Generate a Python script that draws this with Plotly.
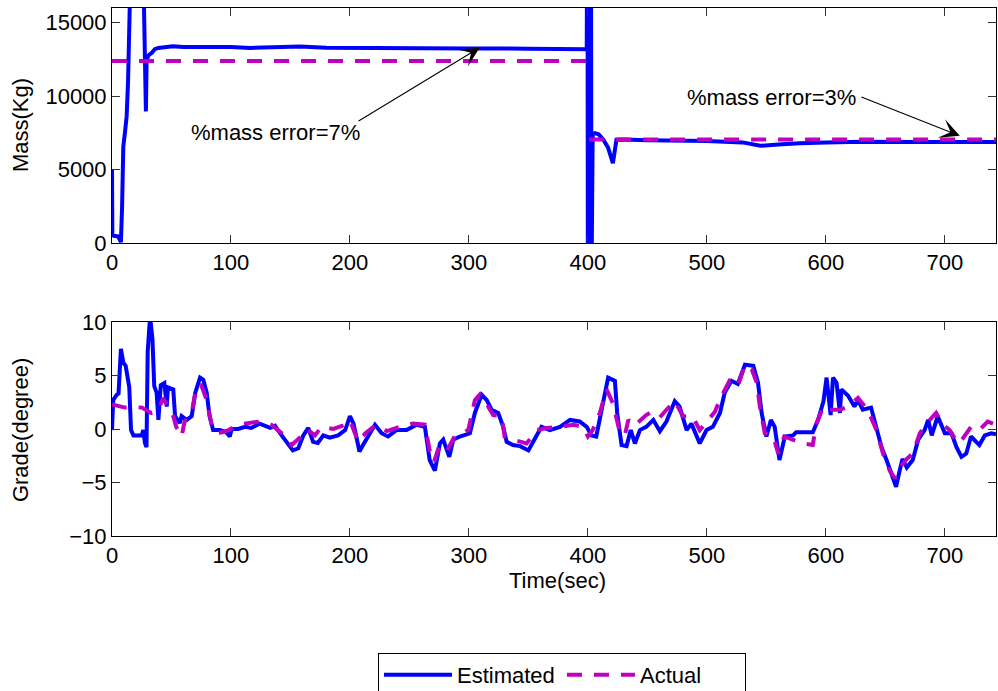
import plotly.graph_objects as go

# ---------------- data ----------------
# Top panel: mass (kg)
t_mass_est = [0, 0.3, 1, 3, 5, 6.5, 7.5, 8.5, 9.5, 11, 12.3, 13.5, 14.5, 16, 26, 27.5, 28.5, 29.1,
              31, 33.3, 36, 39, 45, 51, 60, 80, 100, 116, 130, 150, 158, 180, 200, 250, 300, 350,
              390, 399, 399.6, 400, 400.5, 401, 401.5, 402, 402.5, 403, 404, 406, 409, 413, 417,
              421, 424, 430, 450, 500, 530, 545, 560, 578, 600, 630, 680, 743]
mass_est = [5000, 450, 500, 480, 450, 250, 60, 2500, 6570, 7600, 8620, 11000, 15000, 20000, 20000,
            14000, 8960, 12480, 12800, 12940, 13200, 13280, 13350, 13400, 13350, 13380, 13350, 13280,
            13320, 13350, 13380, 13300, 13300, 13280, 13250, 13230, 13200, 13200, 25000, -5000, 25000,
            -5000, 25000, -5000, 25000, -3000, 7400, 7480, 7400, 7030, 6480, 5440, 7030, 7050, 7000,
            6950, 6850, 6620, 6700, 6800, 6850, 6900, 6880, 6880]
t_mass_act = [0, 399, 399.5, 401, 743]
mass_act = [12400, 12400, None, 7050, 7050]

# Bottom panel: grade (degree)
t_grade_est = [0, 1, 4, 5.5, 7.5, 9.5, 11.5, 13, 14.5, 16, 18, 25, 26.3, 27.7, 29, 30, 32, 34, 35.5,
               37.5, 39, 41, 44, 46, 47, 51.5, 53, 57, 58.5, 62.8, 67, 70, 74, 76.7, 79.6, 82, 85,
               90.8, 96, 99, 100.6, 106, 112, 117, 124, 133, 137, 142.6, 148, 152, 156.6, 160.8, 165,
               169, 173, 177.6, 183, 190, 196, 200, 203, 205.6, 208, 211, 214, 221, 226.6, 232, 239,
               247.6, 256, 263, 267, 271.4, 275.6, 278.4, 283.5, 286.8, 292.4, 300.8, 305, 310.7, 315,
               319, 324.6, 328.8, 331.7, 337, 343, 350, 354, 361, 368, 376.5, 385, 393, 399, 403, 407,
               411.5, 417, 422.7, 424.6, 428.3, 432.5, 436, 439.5, 443.7, 449, 455, 460.5, 466, 473,
               477, 483, 487, 494, 499.7, 505, 511, 515, 520.7, 526, 532, 539, 543, 546, 550, 553.8,
               557, 561, 565.5, 572.5, 575, 589, 593.5, 598, 600.6, 604, 606, 609, 611.8, 613, 618.7,
               624, 627, 631, 638, 642.6, 646.8, 651, 655, 659, 662, 664.4, 668, 673, 677.6, 683, 686,
               689, 694, 700, 705.6, 709.8, 714, 718, 722, 729, 733.6, 739, 743]
grade_est = [-0.1, 2.7, 3.2, 3.3, 7.5, 6.2, 5.9, 4.6, 3.9, -0.1, -0.6, -0.6, -0.1, -1.3, -1.7, 7.2,
             10.5, 8.4, 4.0, 3.4, 0.85, 4.1, 4.3, 2.1, 3.9, 3.7, 1.2, 0.55, 1.2, 0.85, 1.2, 3.4, 4.8,
             4.6, 3.4, 1.2, -0.1, -0.1, -0.3, -0.7, 0.0, 0.0, 0.2, 0.1, 0.5, 0.1, 0.3, -0.6, -1.5,
             -2.0, -1.8, -0.6, 0.1, -1.2, -1.3, -0.6, -0.8, -0.6, -0.1, 1.2, 0.5, -1.0, -2.1, -1.5,
             -0.9, 0.4, -0.4, -0.7, -0.1, -0.1, 0.4, 0.2, -2.9, -3.9, -1.35, -1.0, -2.6, -1.0, -0.7,
             -0.4, 1.5, 3.2, 2.7, 1.8, 1.5, 0.2, -1.2, -1.5, -1.6, -2.0, -1.2, 0.2, -0.1, 0.2, 0.85,
             0.7, 0.2, -0.6, -0.7, 1.8, 4.8, 4.5, 1.5, -1.5, -1.6, -0.1, -1.35, -0.1, 0.2, 0.85, -0.2,
             0.7, 2.6, 2.1, -0.1, 0.5, -1.35, -0.1, 0.2, 1.5, 3.4, 4.5, 4.2, 6.0, 5.9, 4.3, 1.5, -0.7,
             0.85, 0.2, -2.9, -0.7, -0.6, -0.3, -0.3, 0.85, 2.6, 4.8, 1.3, 4.8, 4.3, 1.5, 3.7, 3.1,
             2.1, 2.7, 1.8, 2.0, -0.1, -1.7, -2.9, -4.2, -5.4, -3.9, -2.8, -3.6, -2.9, -1.0, -0.1,
             0.85, -0.6, 1.2, -0.4, -0.4, -1.7, -2.6, -2.3, -0.7, -1.5, -0.6, -0.4, -0.5]
t_grade_act = [0, 11, 25, 33, 39, 43, 47, 51.5, 54, 58.5, 61, 67, 71, 75, 79.6, 84, 89, 98, 106, 117,
               124, 134, 142.6, 151, 158, 163.6, 170.6, 176, 186, 196, 200, 207, 213, 222, 231, 242,
               253, 263, 267, 270.6, 275.6, 282.6, 288, 299.4, 305, 309, 315, 320.4, 327.5, 330, 337,
               348.5, 357, 365, 376.5, 387.6, 396, 400, 404, 410, 415.7, 421, 427, 431, 434, 439, 449,
               453.5, 460.5, 466, 473, 480, 488, 494, 500, 506.7, 512, 519, 526, 532, 537.6, 542,
               544.5, 548.7, 555.7, 560, 565, 572.5, 581, 589, 592, 598, 603, 611.8, 618.7, 627, 635,
               642.6, 648, 653.8, 658, 662, 668, 673, 679, 684.6, 692.7, 698.6, 704, 711, 715, 722,
               729, 736, 743]
grade_act = [2.3, 2.0, 2.0, 1.5, 1.8, 2.9, 2.1, 1.2, 0.2, -0.7, 0.7, 1.5, 4.0, 4.1, 2.7, 0.2, -0.4,
             -0.1, 0.4, 0.6, 0.7, 0.4, -0.4, -1.5, -0.8, 0.0, -0.6, 0.2, 0.0, 0.4, 0.8, -1.2, -0.4,
             0.4, -0.2, 0.2, 0.5, 0.4, -2.0, -3.1, -1.35, -1.8, -0.7, -0.1, 2.7, 3.2, 2.3, 1.3, 1.2,
             -0.7, -1.0, -1.35, -0.1, 0.1, 0.2, 0.4, 0.2, -0.7, -0.1, 1.5, 3.7, 2.4, -0.4, -0.6, 0.85,
             0.3, 1.3, 1.6, 1.1, 1.8, 2.6, 1.2, 1.2, -0.1, 0.7, 1.6, 3.0, 4.5, 4.0, 6.0, 5.6, 4.3,
             2.1, -0.4, -0.7, -2.3, -0.7, -1.0, -1.35, -1.5, 0.5, 2.1, 1.8, 1.8, 2.1, 2.9, 1.8, -0.1,
             -2.3, -3.9, -4.6, -3.6, -2.8, -2.3, -0.4, 0.5, 1.5, 0.4, -0.1, -1.35, -0.9, 0.2, -0.1,
             0.7, 0.4]

x_ticks = [0, 100, 200, 300, 400, 500, 600, 700]
mass_ticks = [0, 5000, 10000, 15000]
grade_ticks = [-10, -5, 0, 5, 10]

# ---------------- styling ----------------
BLUE = "#0000ff"
MAG = "#bf00bf"
FONT = "Liberation Sans, Arial, Helvetica, sans-serif"
FS = 22
DASH = "15px,12px"

fig = go.Figure()
fig.add_trace(go.Scatter(x=t_mass_est, y=mass_est, mode="lines", name="Estimated",
                         line=dict(color=BLUE, width=4), xaxis="x", yaxis="y", showlegend=True))
fig.add_trace(go.Scatter(x=t_mass_act, y=mass_act, mode="lines", name="Actual",
                         line=dict(color=MAG, width=4, dash=DASH), xaxis="x", yaxis="y",
                         connectgaps=False, showlegend=True))
fig.add_trace(go.Scatter(x=t_grade_est, y=grade_est, mode="lines", name="Estimated",
                         line=dict(color=BLUE, width=4), xaxis="x2", yaxis="y2", showlegend=False))
fig.add_trace(go.Scatter(x=t_grade_act, y=grade_act, mode="lines", name="Actual",
                         line=dict(color=MAG, width=4, dash=DASH), xaxis="x2", yaxis="y2",
                         showlegend=False))

axis_common = dict(showline=True, linecolor="black", linewidth=1, mirror="ticks",
                   ticks="inside", ticklen=8, tickcolor="#333333", tickwidth=1,
                   showgrid=False, zeroline=False, tickformat="d",
                   tickfont=dict(family=FONT, size=FS, color="black"))

fig.update_layout(
    width=998, height=691,
    margin=dict(l=112, r=2, t=8, b=0, autoexpand=False),
    paper_bgcolor="white", plot_bgcolor="white",
    font=dict(family=FONT, size=FS, color="black"),
    xaxis=dict(domain=[0, 1], anchor="y", range=[0, 743], tickvals=x_ticks, **axis_common),
    yaxis=dict(domain=[0.6559, 1], anchor="x", range=[0, 16000], tickvals=mass_ticks, **axis_common),
    xaxis2=dict(domain=[0, 1], anchor="y2", range=[0, 743], tickvals=x_ticks, **axis_common),
    yaxis2=dict(domain=[0.2269, 0.5403], anchor="x2", range=[-10, 10], tickvals=grade_ticks,
                **axis_common),
    legend=dict(orientation="h", x=0.509, xanchor="center", y=0.0556, yanchor="top",
                bordercolor="black", borderwidth=1, bgcolor="white",
                font=dict(family=FONT, size=FS, color="black"),
                itemwidth=68, entrywidth=100, entrywidthmode="pixels",
                tracegroupgap=0),
    showlegend=True,
)

ann_font = dict(family=FONT, size=FS, color="black")
annotations = [
    # axis titles
    dict(text="Mass(Kg)", xref="paper", yref="paper", x=-0.1040, y=(691 - 125) / 683,
         textangle=-90, showarrow=False, font=ann_font, xanchor="center", yanchor="middle"),
    dict(text="Grade(degree)", xref="paper", yref="paper", x=-0.1040, y=(691 - 430) / 683,
         textangle=-90, showarrow=False, font=ann_font, xanchor="center", yanchor="middle"),
    dict(text="Time(sec)", xref="paper", yref="paper", x=(557 - 112) / 884, y=(691 - 580) / 683,
         showarrow=False, font=ann_font, xanchor="center", yanchor="middle"),
    # text labels
    dict(text="%mass error=7%", xref="x", yref="y", x=137, y=7500, showarrow=False,
         font=ann_font, xanchor="center", yanchor="middle"),
    dict(text="%mass error=3%", xref="x", yref="y", x=554, y=9890, showarrow=False,
         font=ann_font, xanchor="center", yanchor="middle"),
    # arrows
    dict(text="", xref="x", yref="y", x=309, y=13300, axref="x", ayref="y", ax=206, ay=8250,
         showarrow=True, arrowhead=3, arrowsize=3, arrowwidth=1.1, arrowcolor="black"),
    dict(text="", xref="x", yref="y", x=712.6, y=7300, axref="x", ayref="y", ax=628.6, ay=9980,
         showarrow=True, arrowhead=3, arrowsize=3, arrowwidth=1.1, arrowcolor="black"),
]
fig.update_layout(annotations=annotations)

fig.write_html("out.html")
